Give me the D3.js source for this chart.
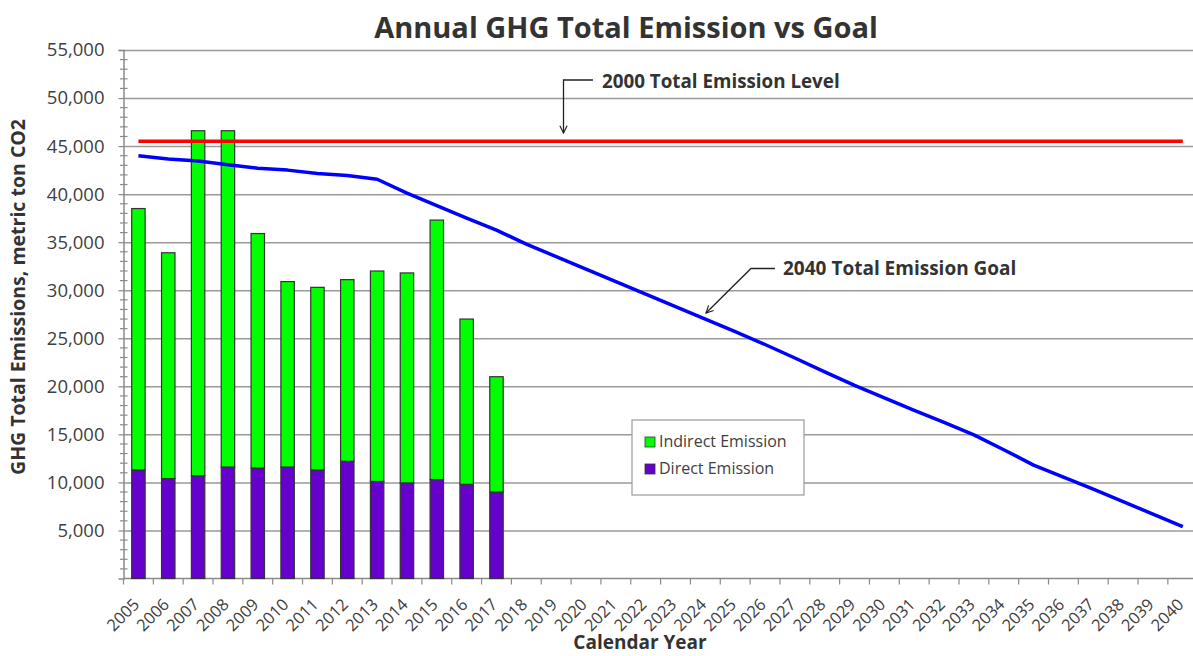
<!DOCTYPE html>
<html>
<head>
<meta charset="utf-8">
<script src="https://cdn.jsdelivr.net/npm/d3@7"></script>
<style>
  body { margin: 0; background: #fff; }
  text { font-family: "Open Sans", sans-serif; }
</style>
</head>
<body>
<div id="chart"></div>
<script>
const width = 1193;
const height = 656;

// data
const years = d3.range(2005, 2041).map(String);
const barYears = d3.range(2005, 2018).map(String);
const directEmission = [11300, 10400, 10700, 11600, 11500, 11600, 11300, 12200, 10100, 9950, 10300, 9800, 9000];
const indirectEmission = [27200, 23500, 35900, 35000, 24400, 19300, 19000, 18900, 21900, 21850, 27000, 17200, 12000];
const goal2040 = [44000, 43650, 43450, 43050, 42700, 42500, 42150, 41950, 41550, 40100,
  38800, 37500, 36250, 34800, 33500, 32200, 30900, 29600, 28300, 27000,
  25700, 24350, 22950, 21500, 20100, 18800, 17500, 16250, 14950, 13400,
  11800, 10550, 9300, 8000, 6700, 5400];
const level2000 = 45500;
const yTicks = d3.range(5000, 55001, 5000);

const margin = { left: 123.5, top: 50 };
const plotW = 1074.2;
const plotH = 528.5;

const svg = d3.select("#chart")
  .append("svg")
  .attr("width", width)
  .attr("height", height);

const x = d3.scaleBand()
  .domain(years)
  .range([margin.left, margin.left + plotW]);

const y = d3.scaleLinear()
  .domain([0, 55000])
  .range([margin.top + plotH, margin.top]);

const bw = x.bandwidth();
const barW = bw * 0.45;

// gridlines
svg.append("g")
  .attr("transform", `translate(${margin.left},0)`)
  .call(d3.axisLeft(y).tickValues(yTicks).tickSize(-plotW).tickFormat(""))
  .call(g => g.select(".domain").remove())
  .call(g => g.selectAll("line").attr("stroke", "#9a9a9a").attr("stroke-width", 1.5));

// minor y ticks (cross the axis)
svg.append("g")
  .selectAll("line")
  .data(d3.range(1000, 55000, 1000).filter(v => v % 5000 !== 0))
  .join("line")
  .attr("x1", margin.left - 3.5)
  .attr("x2", margin.left + 4)
  .attr("y1", d => y(d))
  .attr("y2", d => y(d))
  .attr("stroke", "#8a8a8a")
  .attr("stroke-width", 1.2);

// y axis
svg.append("g")
  .attr("transform", `translate(${margin.left},0)`)
  .call(d3.axisLeft(y).tickValues(yTicks).tickSize(5).tickPadding(14).tickFormat(d3.format(",")))
  .call(g => g.select(".domain").attr("stroke", "#8a8a8a").attr("stroke-width", 1.5))
  .call(g => g.selectAll(".tick line").attr("stroke", "#8a8a8a").attr("stroke-width", 1.2))
  .call(g => g.selectAll("text")
    .attr("font-family", "'Open Sans', sans-serif")
    .attr("font-size", 18.5)
    .attr("fill", "#404040"));

// x axis
const xAxis = svg.append("g")
  .attr("transform", `translate(0,${margin.top + plotH})`);

xAxis.append("line")
  .attr("x1", margin.left)
  .attr("x2", margin.left + plotW)
  .attr("stroke", "#8a8a8a")
  .attr("stroke-width", 1.5);

xAxis.selectAll(".xtick")
  .data(years)
  .join("line")
  .attr("class", "xtick")
  .attr("x1", d => x(d))
  .attr("x2", d => x(d))
  .attr("y1", 0)
  .attr("y2", 6)
  .attr("stroke", "#8a8a8a")
  .attr("stroke-width", 1.2);

xAxis.selectAll(".xlabel")
  .data(years)
  .join("text")
  .attr("class", "xlabel")
  .attr("transform", d => `translate(${x(d) + bw / 2 + 2},${27}) rotate(-45)`)
  .attr("text-anchor", "end")
  .attr("font-size", 16.5)
  .attr("fill", "#404040")
  .text(d => d);

// stacked bars
const stackData = barYears.map((yr, i) => ({ year: yr, direct: directEmission[i], indirect: indirectEmission[i] }));
const series = d3.stack().keys(["direct", "indirect"])(stackData);
const barColor = { direct: "#6600cc", indirect: "#00ff00" };

svg.append("g")
  .selectAll("g")
  .data(series)
  .join("g")
  .attr("fill", d => barColor[d.key])
  .selectAll("rect")
  .data(d => d)
  .join("rect")
  .attr("x", d => x(d.data.year) + (bw - barW) / 2)
  .attr("y", d => y(d[1]))
  .attr("width", barW)
  .attr("height", d => y(d[0]) - y(d[1]))
  .attr("stroke", "#333")
  .attr("stroke-width", 1.2);

// 2000 level line
svg.append("line")
  .attr("x1", x(years[0]) + bw / 2)
  .attr("x2", x(years[years.length - 1]) + bw / 2)
  .attr("y1", y(level2000))
  .attr("y2", y(level2000))
  .attr("stroke", "#ff0000")
  .attr("stroke-width", 3.5);

// goal line
svg.append("path")
  .datum(goal2040)
  .attr("fill", "none")
  .attr("stroke", "#0000ff")
  .attr("stroke-width", 3.5)
  .attr("stroke-linejoin", "round")
  .attr("d", d3.line().x((d, i) => x(years[i]) + bw / 2).y(d => y(d)));

// title
svg.append("text")
  .attr("x", 626)
  .attr("y", 38)
  .attr("text-anchor", "middle")
  .attr("font-size", 29)
  .attr("font-weight", "bold")
  .attr("fill", "#333")
  .text("Annual GHG Total Emission vs Goal");

// axis titles
svg.append("text")
  .attr("transform", "translate(25,297) rotate(-90)")
  .attr("text-anchor", "middle")
  .attr("font-size", 19.5)
  .attr("font-weight", "bold")
  .attr("fill", "#333")
  .text("GHG Total Emissions, metric ton CO2");

svg.append("text")
  .attr("x", 640)
  .attr("y", 649)
  .attr("text-anchor", "middle")
  .attr("font-size", 19)
  .attr("font-weight", "bold")
  .attr("fill", "#333")
  .text("Calendar Year");

// legend
const legend = svg.append("g").attr("transform", "translate(632,420)");
legend.append("rect")
  .attr("width", 172)
  .attr("height", 75)
  .attr("fill", "#fff")
  .attr("stroke", "#9a9a9a")
  .attr("stroke-width", 1.2);

const legendItems = [
  { label: "Indirect Emission", color: barColor.indirect },
  { label: "Direct Emission", color: barColor.direct }
];
const li = legend.selectAll(".li")
  .data(legendItems)
  .join("g")
  .attr("class", "li")
  .attr("transform", (d, i) => `translate(13,${17 + i * 27})`);
li.append("rect")
  .attr("width", 10)
  .attr("height", 10)
  .attr("fill", d => d.color)
  .attr("stroke", "#333")
  .attr("stroke-width", 0.8);
li.append("text")
  .attr("x", 14)
  .attr("y", 10)
  .attr("font-size", 16)
  .attr("fill", "#404040")
  .text(d => d.label);

// annotations
svg.append("defs").append("marker")
  .attr("id", "arrow")
  .attr("viewBox", "0 0 10 10")
  .attr("refX", 9)
  .attr("refY", 5)
  .attr("markerWidth", 9)
  .attr("markerHeight", 9)
  .attr("markerUnits", "userSpaceOnUse")
  .attr("orient", "auto")
  .append("path")
  .attr("d", "M1,1 L9,5 L1,9")
  .attr("fill", "none")
  .attr("stroke", "#222")
  .attr("stroke-width", 1.3);

svg.append("path")
  .attr("d", "M593,80 L563.5,80 L563.5,133")
  .attr("fill", "none")
  .attr("stroke", "#222")
  .attr("stroke-width", 1.3)
  .attr("marker-end", "url(#arrow)");

svg.append("text")
  .attr("x", 602)
  .attr("y", 88)
  .attr("font-size", 18.8)
  .attr("font-weight", "bold")
  .attr("fill", "#333")
  .text("2000 Total Emission Level");

svg.append("path")
  .attr("d", "M775,268.5 L751,268.5 L706,313")
  .attr("fill", "none")
  .attr("stroke", "#222")
  .attr("stroke-width", 1.3)
  .attr("marker-end", "url(#arrow)");

svg.append("text")
  .attr("x", 783)
  .attr("y", 274.5)
  .attr("font-size", 19)
  .attr("font-weight", "bold")
  .attr("fill", "#333")
  .text("2040 Total Emission Goal");
</script>
</body>
</html>
